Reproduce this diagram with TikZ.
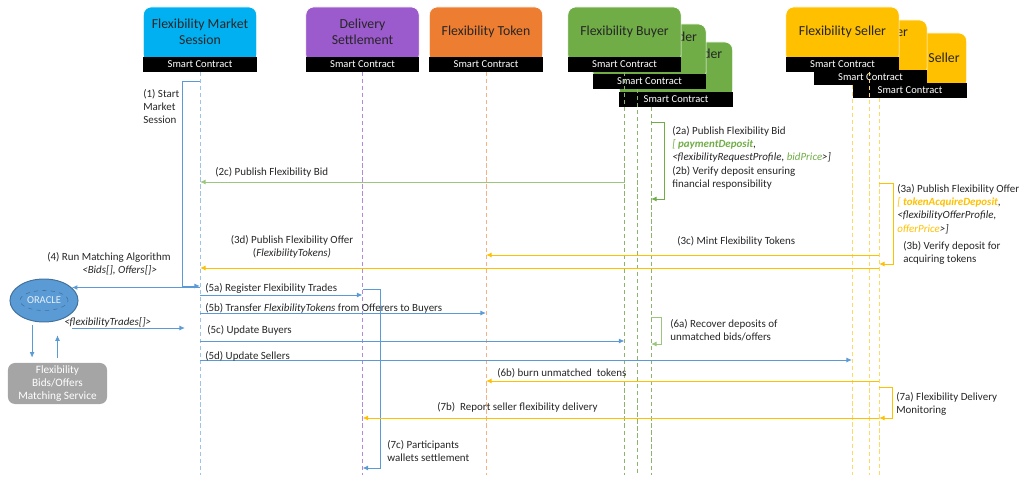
\documentclass[tikz,border=0pt]{standalone}
\usepackage{fontspec}
\setmainfont{Carlito}
\usepackage{xcolor}
\usepackage{tikz}
\usetikzlibrary{positioning, shapes.geometric, arrows.meta, calc}

\definecolor{mscyan}{HTML}{00B0F0}
\definecolor{dspurple}{HTML}{9C5BCD}
\definecolor{tkorange}{HTML}{ED7D31}
\definecolor{bygreen}{HTML}{70AD47}
\definecolor{slgold}{HTML}{FFC000}
\definecolor{msgblue}{HTML}{5B9BD5}
\definecolor{oracleedge}{HTML}{41719C}
\definecolor{lifeblue}{HTML}{9DC3E6}
\definecolor{lifepurple}{HTML}{B18ADB}
\definecolor{lifeorange}{HTML}{F4B183}
\definecolor{lifegreen}{HTML}{8CB46C}
\definecolor{lifegold}{HTML}{FFD966}
\definecolor{txtgray}{HTML}{262626}
\definecolor{servgray}{HTML}{A5A5A5}

\begin{document}
\begin{tikzpicture}[x=0.025cm, y=-0.025cm,
    head/.style={rectangle, rounded corners=5.5pt, draw=white, line width=0.5pt, minimum width=2.83cm, minimum height=1.4cm},
    htext/.style={align=center, inner sep=0pt, text=txtgray, font=\fontsize{9.8}{11.5}\selectfont},
    band/.style={rectangle, fill=black, text=white, minimum width=2.83cm, minimum height=0.375cm, inner sep=0pt, font=\fontsize{7.5}{9}\selectfont},
    life/.style={dash pattern=on 3pt off 2pt, line width=0.7pt},
    msg/.style={-{Latex[length=4pt, width=3.5pt]}, line width=0.7pt},
    lbl/.style={inner sep=0pt, align=left, text=txtgray, font=\fontsize{7.8}{9.3}\selectfont},
    service/.style={rectangle, rounded corners=5pt, fill=servgray, text=white, align=center, minimum width=2.475cm, minimum height=1.025cm, inner sep=0pt, font=\fontsize{8}{9.3}\selectfont}
]

\useasboundingbox (0,0) rectangle (1021,478);

% participants
\node[head, fill=mscyan, label={[htext, yshift=2.5pt]center:{Flexibility Market\\Session}}] (msession) at (200,35) {};
\node[band, below=-0.175cm of msession] (msession_sc) {Smart Contract};

\node[head, fill=dspurple, label={[htext, yshift=2.5pt]center:{Delivery\\Settlement}}] (delivery) at (362.5,35) {};
\node[band, below=-0.175cm of delivery] (delivery_sc) {Smart Contract};

\node[head, fill=tkorange, label={[htext, yshift=2.5pt]center:{Flexibility Token}}] (token) at (486,35) {};
\node[band, below=-0.175cm of token] (token_sc) {Smart Contract};

\node[head, fill=bygreen, label={[htext, xshift=0.92cm, yshift=0.4cm]center:{der}}] (buyer3) at (676,70) {};
\node[band, below=-0.175cm of buyer3] (buyer3_sc) {Smart Contract};
\node[head, fill=bygreen, label={[htext, xshift=0.95cm, yshift=0.375cm]center:{der}}] (buyer2) at (649.5,52) {};
\node[band, below=-0.175cm of buyer2] (buyer2_sc) {Smart Contract};
\node[head, fill=bygreen, label={[htext, yshift=2.5pt]center:{Flexibility Buyer}}] (buyer1) at (624.5,35) {};
\node[band, below=-0.175cm of buyer1] (buyer1_sc) {Smart Contract};

\node[head, fill=slgold, label={[htext, xshift=0.85cm, yshift=0.075cm]center:{Seller}}] (seller3) at (910,61) {};
\node[band, below=-0.175cm of seller3] (seller3_sc) {Smart Contract};
\node[head, fill=slgold, label={[htext, xshift=0.79cm, yshift=0.375cm]center:{er}}] (seller2) at (870.5,48) {};
\node[band, below=-0.175cm of seller2] (seller2_sc) {Smart Contract};
\node[head, fill=slgold, label={[htext, yshift=2.5pt]center:{Flexibility Seller}}] (seller1) at (842.5,35) {};
\node[band, below=-0.175cm of seller1] (seller1_sc) {Smart Contract};

% lifelines
\coordinate (bottom) at (0,475);
\coordinate (ms) at (msession_sc.south);
\coordinate (ds) at (delivery_sc.south);
\coordinate (tk) at (token_sc.south);
\coordinate (b1) at (buyer1_sc.south);
\coordinate (b2) at ($(buyer2_sc.south)+(-12.5,0)$);
\coordinate (b3) at ($(buyer3_sc.south)+(-25,0)$);
\coordinate (s1) at ($(seller2_sc.south)+(-18.5,0)$);
\coordinate (s2) at ($(seller1_sc.south)+(26.5,0)$);
\coordinate (s3) at ($(seller3_sc.south)+(-31,0)$);

\foreach \ll/\c in {ms/lifeblue, ds/lifepurple, tk/lifeorange, b1/lifegreen, b2/lifegreen, b3/lifegreen, s1/lifegold, s2/lifegold, s3/lifegold}
    \draw[life, \c] (\ll) -- (\ll |- bottom);

% oracle and matching service
\node[ellipse, fill=msgblue, draw=oracleedge, line width=0.7pt, minimum width=1.7cm, minimum height=1.075cm] (oracle) at (44,300.5) {};
\node[ellipse, draw=oracleedge, dashed, minimum width=1.2cm, minimum height=0.5cm, inner sep=0pt, text=white!85!msgblue, font=\fontsize{7.5}{9}\selectfont] (oracle_in) at (oracle.center) {ORACLE};
\node[service] (match) at (57.5,383.5) {Flexibility\\Bids/Offers\\Matching Service};

\coordinate (tr_start) at (72,328);
\coordinate (tr_end) at (185,328);

% messages
\draw[msg, msgblue] (ms |- 0,81) -- ++(-18,0) |- (ms |- 0,286);
\draw[msg, bygreen] (b3 |- 0,122) -- ++(13,0) |- (b3 |- 0,199);
\draw[msg, bygreen!70] (b1 |- 0,182) -- (ms |- 0,182);
\draw[msg, slgold] (s3 |- 0,183) -- ++(14,0) |- (s3 |- 0,264);
\draw[msg, slgold] (s3 |- 0,255) -- (tk |- 0,255);
\draw[msg, slgold] (s3 |- 0,268) -- (ms |- 0,268);
\draw[msg, msgblue] (ms |- oracle.25) -- (oracle.25);
\draw[msg, msgblue, shorten <=3pt, shorten >=3.5pt] (oracle.240) -- (oracle.240 |- match.north);
\draw[msg, msgblue, shorten <=3.5pt, shorten >=9pt] (match.north) -- (match.north |- oracle.south);
\draw[msg, msgblue] (tr_start) -- (tr_end);
\draw[msg, msgblue] (ms |- 0,295) -- (ds |- 0,295);
\draw[msg, msgblue] (ds |- 0,289) -- ++(18,0) |- (ds |- 0,468);
\draw[msg, msgblue] (ms |- 0,313) -- (tk |- 0,313);
\draw[msg, msgblue] (ms |- 0,341) -- (b1 |- 0,341);
\draw[msg, msgblue] (ms |- 0,360) -- (s1 |- 0,360);
\draw[msg, bygreen!70] (b3 |- 0,317) -- ++(10,0) |- (b3 |- 0,344);
\draw[msg, slgold] (s3 |- 0,381) -- (tk |- 0,381);
\draw[msg, slgold] (s3 |- 0,387) -- ++(13,0) |- (s3 |- 0,418);
\draw[msg, slgold] (s3 |- 0,418) -- (ds |- 0,418);

% labels
\node[lbl, anchor=north west] (l1) at (143,89.5) {(1) Start\\Market\\Session};
\node[lbl, anchor=north west] (l2a) at (672,126.5) {(2a) Publish Flexibility Bid\\{\itshape\color{bygreen}[ \textbf{paymentDeposit}}{\itshape ,}\\{\itshape <flexibilityRequestProfile, {\color{bygreen}bidPrice}>]}};
\node[lbl, anchor=north west] (l2b) at (672,166.5) {(2b) Verify deposit ensuring\\financial responsibility};
\node[lbl, anchor=west] (l2c) at (215,172) {(2c) Publish Flexibility Bid};
\node[lbl, anchor=north west] (l3a) at (897,184.5) {(3a) Publish Flexibility Offer\\{\itshape\color{slgold}[ \textbf{tokenAcquireDeposit}}{\itshape ,}\\{\itshape <flexibilityOfferProfile,}\\{\itshape{\color{slgold}offerPrice}>]}};
\node[lbl, anchor=north west] (l3b) at (903,241.5) {(3b) Verify deposit for\\acquiring tokens};
\node[lbl, anchor=west] (l3c) at (677,241) {(3c) Mint Flexibility Tokens};
\node[lbl, anchor=north, align=center] (l3d) at (292,235.5) {(3d) Publish Flexibility Offer\\({\itshape FlexibilityTokens)}};
\node[lbl, anchor=north west] (l4) at (47,252.5) {(4) Run Matching Algorithm\\\hspace*{0.875cm}{\itshape <Bids[], Offers[]>}};
\node[lbl, anchor=west] (ltr) at (64,322) {\itshape <flexibilityTrades[]>};
\node[lbl, anchor=west] (l5a) at (205,288) {(5a) Register Flexibility Trades};
\node[lbl, anchor=west] (l5b) at (205,308) {(5b) Transfer \textit{FlexibilityTokens} from Offerers to Buyers};
\node[lbl, anchor=west] (l5c) at (207,330) {(5c) Update Buyers};
\node[lbl, anchor=west] (l5d) at (205,356) {(5d) Update Sellers};
\node[lbl, anchor=north west] (l6a) at (670,319.5) {(6a) Recover deposits of\\unmatched bids/offers};
\node[lbl, anchor=west] (l6b) at (497,373) {(6b) burn unmatched\ \ tokens};
\node[lbl, anchor=north west] (l7a) at (896,392.5) {(7a) Flexibility Delivery\\Monitoring};
\node[lbl, anchor=west] (l7b) at (437,407) {(7b)\ \ Report seller flexibility delivery};
\node[lbl, anchor=north west] (l7c) at (387,440.5) {(7c) Participants\\wallets settlement};

\end{tikzpicture}
\end{document}
